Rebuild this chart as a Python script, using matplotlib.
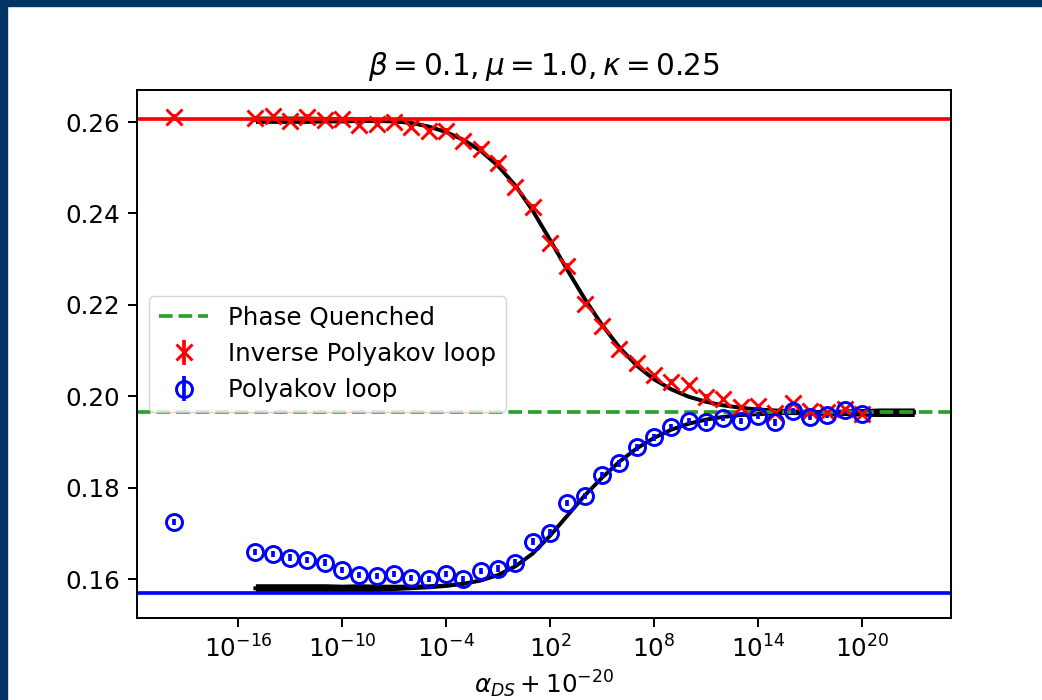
import numpy as np
import matplotlib
matplotlib.use("Agg")
import matplotlib.pyplot as plt
from matplotlib.patches import Rectangle
from matplotlib.ticker import NullLocator

S = 1.77  # scale of original rendering relative to 100 dpi points

# ---------------- data ----------------
# alpha_DS values of the measured points (plotted as alpha_DS + 1e-20)
alpha = [1e-20, 1e-15, 1e-14, 1e-13, 1e-12, 1e-11, 1e-10, 1e-9, 1e-8, 1e-7, 1e-6,
         1e-5, 1e-4, 1e-3, 1e-2, 1e-1, 1e0, 1e1, 1e2, 1e3, 1e4, 1e5, 1e6, 1e7, 1e8,
         1e9, 1e10, 1e11, 1e12, 1e13, 1e14, 1e15, 1e16, 1e17, 1e18, 1e19, 1e20]

inv_poly = [0.2612, 0.2608, 0.2613, 0.2603, 0.2612, 0.2604, 0.2606, 0.2593, 0.2596,
            0.2601, 0.2588, 0.2581, 0.2581, 0.2559, 0.2542, 0.2511, 0.2458, 0.2415,
            0.2335, 0.2286, 0.2202, 0.2154, 0.2103, 0.2073, 0.2046, 0.2032, 0.2024,
            0.1999, 0.1993, 0.1976, 0.1979, 0.1963, 0.1985, 0.1967, 0.1966, 0.1972,
            0.1962]
inv_poly_err = [0.0006, 0.0005, 0.0005, 0.0005, 0.0005, 0.0005, 0.0005, 0.0005, 0.0005,
                0.0005, 0.0005, 0.0005, 0.0005, 0.0005, 0.0005, 0.0005, 0.0005, 0.0005,
                0.0005, 0.0005, 0.0005, 0.0005, 0.0005, 0.0005, 0.0005, 0.0005, 0.0005,
                0.0005, 0.0005, 0.0005, 0.0005, 0.0005, 0.0005, 0.0005, 0.0005, 0.0005,
                0.0005]

poly = [0.1725, 0.1660, 0.1655, 0.1647, 0.1642, 0.1636, 0.1620, 0.1609, 0.1607,
        0.1611, 0.1602, 0.1600, 0.1611, 0.1600, 0.1618, 0.1623, 0.1636, 0.1682,
        0.1702, 0.1767, 0.1782, 0.1828, 0.1853, 0.1888, 0.1910, 0.1933, 0.1946,
        0.1943, 0.1952, 0.1946, 0.1957, 0.1943, 0.1968, 0.1955, 0.1959, 0.1969,
        0.1962]
poly_err = [0.0006, 0.0007, 0.0007, 0.0007, 0.0007, 0.0007, 0.0007, 0.0007, 0.0007,
            0.0007, 0.0007, 0.0007, 0.0007, 0.0007, 0.0007, 0.0007, 0.0007, 0.0007,
            0.0007, 0.0007, 0.0007, 0.0007, 0.0007, 0.0007, 0.0007, 0.0007, 0.0007,
            0.0007, 0.0007, 0.0007, 0.0007, 0.0007, 0.0007, 0.0007, 0.0007, 0.0007,
            0.0007]

# fit curves (at each decade of alpha_DS)
fit_exp = [-15, -14, -13, -12, -11, -10, -9, -8, -7, -6, -5, -4, -3, -2, -1, 0, 1, 2,
           3, 4, 5, 6, 7, 8, 9, 10, 11, 12, 13, 14, 15, 16, 17, 18, 19, 20, 21, 22, 23]
fit_inv = [0.2605, 0.2605, 0.2605, 0.2605, 0.2605, 0.2605, 0.2605, 0.2604, 0.2602,
           0.2598, 0.2590, 0.2578, 0.2561, 0.2537, 0.2504, 0.2461, 0.2406, 0.2342,
           0.2276, 0.2213, 0.2156, 0.2107, 0.2067, 0.2037, 0.2015, 0.1999, 0.1988,
           0.1980, 0.1975, 0.1971, 0.1969, 0.1967, 0.1966, 0.1965, 0.1965, 0.1965,
           0.1965, 0.1965, 0.1965]
fit_inv_band = [0.0008, 0.0008, 0.0008, 0.0008, 0.0007, 0.0007, 0.0006, 0.0005, 0.0004,
                0.0003, 0.0002, 0.0001, 0.0001, 0.0001, 0.0001, 0.0001, 0.0001, 0.0001,
                0.0001, 0.0001, 0.0001, 0.0001, 0.0001, 0.0001, 0.0001, 0.0001, 0.0001,
                0.0001, 0.0002, 0.0002, 0.0003, 0.0004, 0.0005, 0.0006, 0.0007, 0.0008,
                0.0009, 0.0009, 0.0009]
fit_pol = [0.1580, 0.1580, 0.1580, 0.1580, 0.1580, 0.1580, 0.1581, 0.1581, 0.1582,
           0.1583, 0.1584, 0.1586, 0.1590, 0.1597, 0.1609, 0.1628, 0.1656, 0.1695,
           0.1739, 0.1783, 0.1822, 0.1857, 0.1886, 0.1909, 0.1927, 0.1940, 0.1949,
           0.1955, 0.1959, 0.1961, 0.1963, 0.1964, 0.1964, 0.1964, 0.1965, 0.1965,
           0.1965, 0.1965, 0.1965]
fit_pol_band = [0.0010, 0.0010, 0.0010, 0.0010, 0.0010, 0.0009, 0.0009, 0.0008, 0.0007,
                0.0006, 0.0005, 0.0004, 0.0003, 0.0002, 0.0001, 0.0001, 0.0001, 0.0001,
                0.0001, 0.0001, 0.0001, 0.0001, 0.0001, 0.0001, 0.0001, 0.0001, 0.0001,
                0.0001, 0.0002, 0.0002, 0.0003, 0.0004, 0.0005, 0.0006, 0.0007, 0.0008,
                0.0009, 0.0009, 0.0009]

inv_limit = 0.2606      # red reference line
pol_limit = 0.1569      # blue reference line
phase_quenched = 0.1965 # green dashed line
offset = 1e-20

xtick_vals = [1e-16, 1e-10, 1e-4, 1e2, 1e8, 1e14, 1e20]
ytick_vals = [0.16, 0.18, 0.20, 0.22, 0.24, 0.26]

title = r"$\beta = 0.1, \mu = 1.0, \kappa = 0.25$"
xlabel = r"$\alpha_{DS} + 10^{-20}$"
labels = ["Phase Quenched", "Inverse Polyakov loop", "Polyakov loop"]

# ---------------- plot ----------------
plt.rcParams.update({
    "font.family": ["DejaVu Sans"],
    "font.size": 10 * S,
    "axes.linewidth": 0.8 * S,
    "xtick.major.size": 3.5 * S,
    "ytick.major.size": 3.5 * S,
    "xtick.major.width": 0.8 * S,
    "ytick.major.width": 0.8 * S,
    "xtick.major.pad": 3.5 * S,
    "ytick.major.pad": 3.5 * S,
    "lines.linewidth": 1.5 * S,
    "lines.markersize": 6.5 * S,
    "lines.markeredgewidth": 1.2 * S,
})

fig = plt.figure(figsize=(10.42, 7.0), dpi=100)
ax = fig.add_axes([137 / 1042, 1 - 618 / 700, (951 - 137) / 1042, (618 - 90) / 700])

xd = np.array(alpha) + offset
xf = 10.0 ** np.array(fit_exp, dtype=float) + offset
fi = np.array(fit_inv)
fp = np.array(fit_pol)
bi = np.array(fit_inv_band)
bp = np.array(fit_pol_band)

ax.fill_between(xf, fi - bi, fi + bi, color="black", lw=0)
ax.fill_between(xf, fp - bp, fp + bp, color="black", lw=0)
ax.plot(xf, fi, color="black", lw=1.6 * S)
ax.plot(xf, fp, color="black", lw=1.6 * S)

ax.axhline(phase_quenched, color="#2ca02c", ls="--", label=labels[0])
ax.axhline(inv_limit, color="red")
ax.axhline(pol_limit, color="blue")

ax.errorbar(xd, inv_poly, yerr=inv_poly_err, fmt="x", color="red", label=labels[1])
ax.errorbar(xd, poly, yerr=poly_err, fmt="o", color="blue", mfc="none",
            label=labels[2])

ax.set_xscale("log")
ax.set_xlim(10 ** -21.83, 10 ** 25.13)
ax.set_ylim(0.1515, 0.267)
ax.set_xticks(xtick_vals)
ax.xaxis.set_minor_locator(NullLocator())
ax.set_yticks(ytick_vals)
ax.set_title(title, fontsize=12 * S, pad=6 * S)
ax.set_xlabel(xlabel, labelpad=2.5 * S)
ax.legend(loc="center left")

# dark blue frame at top and left
fig.patches.append(Rectangle((0, 1 - 6 / 700), 1, 6 / 700, transform=fig.transFigure,
                             color="#003366", zorder=10))
fig.patches.append(Rectangle((0, 0), 7 / 1042, 1, transform=fig.transFigure,
                             color="#003366", zorder=10))

fig.savefig("out.png", dpi=100)
